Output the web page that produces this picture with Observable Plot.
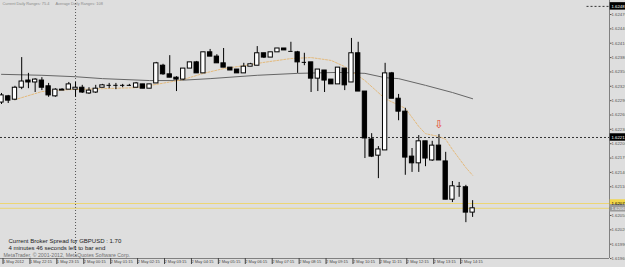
<!DOCTYPE html>
<html><head><meta charset="utf-8">
<script src="https://cdn.jsdelivr.net/npm/d3@7"></script>
<script src="https://cdn.jsdelivr.net/npm/@observablehq/plot@0.6"></script>
<style>
html,body{margin:0;padding:0;background:#dedede;}
#chart{width:625px;height:267px;overflow:hidden;}
</style></head><body><div id="chart"></div>
<script>
// GBPUSD M15 candles, bar 0 = 1 May 2012 21:15
const open = [1.62286,1.62299,1.62292,1.62317,1.62332,1.62328,1.62332,1.62320,1.62299,1.62311,
1.62313,1.62313,1.62317,1.62305,1.62307,1.62317,1.62322,1.62322,1.62322,1.62322,
1.62317,1.62324,1.62315,1.62326,1.62363,1.62345,1.62338,1.62334,1.62357,1.62370,
1.62347,1.62391,1.62382,1.62368,1.62359,1.62355,1.62347,1.62361,1.62363,1.62389,
1.62380,1.62391,1.62399,1.62393,1.62391,1.62370,1.62370,1.62336,1.62353,1.62334,
1.62324,1.62357,1.62328,1.62389,1.62309,1.62209,1.62175,1.62186,1.62347,1.62294,
1.62267,1.62173,1.62159,1.62205,1.62165,1.62196,1.62163,1.62083,1.62111,1.62109,
1.62056];
const high = [1.62305,1.62301,1.62320,1.62380,1.62347,1.62336,1.62338,1.62326,1.62315,1.62315,
1.62328,1.62328,1.62322,1.62317,1.62322,1.62324,1.62326,1.62326,1.62324,1.62324,
1.62328,1.62324,1.62324,1.62370,1.62366,1.62384,1.62340,1.62357,1.62370,1.62372,
1.62391,1.62397,1.62386,1.62399,1.62359,1.62355,1.62368,1.62368,1.62403,1.62389,
1.62391,1.62399,1.62399,1.62412,1.62393,1.62389,1.62370,1.62355,1.62353,1.62334,
1.62359,1.62357,1.62420,1.62412,1.62309,1.62221,1.62194,1.62368,1.62349,1.62303,
1.62274,1.62190,1.62217,1.62205,1.62205,1.62219,1.62182,1.62121,1.62119,1.62113,
1.62081];
const low = [1.62282,1.62284,1.62290,1.62313,1.62315,1.62307,1.62311,1.62297,1.62297,1.62311,
1.62313,1.62297,1.62305,1.62303,1.62305,1.62317,1.62315,1.62313,1.62317,1.62320,
1.62317,1.62315,1.62315,1.62326,1.62343,1.62338,1.62309,1.62332,1.62357,1.62347,
1.62347,1.62382,1.62368,1.62359,1.62353,1.62347,1.62347,1.62361,1.62363,1.62378,
1.62380,1.62391,1.62395,1.62393,1.62347,1.62363,1.62307,1.62309,1.62307,1.62324,
1.62324,1.62311,1.62328,1.62309,1.62169,1.62171,1.62127,1.62186,1.62294,1.62248,
1.62134,1.62140,1.62140,1.62152,1.62163,1.62165,1.62083,1.62077,1.62088,1.62035,
1.62046];
const close = [1.62301,1.62290,1.62317,1.62330,1.62328,1.62334,1.62317,1.62301,1.62313,1.62313,
1.62324,1.62317,1.62307,1.62311,1.62315,1.62322,1.62322,1.62322,1.62322,1.62322,
1.62326,1.62315,1.62324,1.62368,1.62345,1.62338,1.62334,1.62357,1.62370,1.62347,
1.62391,1.62382,1.62368,1.62359,1.62353,1.62347,1.62361,1.62366,1.62389,1.62380,
1.62391,1.62399,1.62395,1.62393,1.62370,1.62370,1.62336,1.62355,1.62332,1.62324,
1.62359,1.62322,1.62389,1.62309,1.62211,1.62173,1.62188,1.62347,1.62294,1.62267,
1.62171,1.62159,1.62205,1.62169,1.62196,1.62165,1.62083,1.62111,1.62111,1.62056,
1.62065];

// fast moving average (orange dotted), read at these bars
const maFastBars = [2,6,10,15,20,23,27,30,33,36,39,43,46,49,51,54,57,60,62,63,65,66,67,68,69,70];
const maFastValues = [1.62292,1.62309,1.62313,1.62315,1.62317,1.62324,1.62334,1.62347,1.62357,1.62363,1.62370,1.62378,1.62380,1.62374,1.62361,1.62332,1.62294,1.62274,1.62236,1.62221,1.62215,1.62209,1.62188,1.62169,1.62150,1.62134];
// slow moving average (dark gray)
const maSlowBars = [0,6,11,15,22,26,31,38,44,50,54,57,59,63,67,70];
const maSlowValues = [1.62345,1.62343,1.62340,1.62336,1.62332,1.62332,1.62336,1.62343,1.62347,1.62349,1.62347,1.62338,1.62336,1.62322,1.62307,1.62294];

const priceTicks = [1.62470,1.62440,1.62410,1.62380,1.62350,1.62320,1.62290,1.62260,1.62230,1.62200,1.62170,1.62140,1.62110,1.62080,1.62050,1.62020,1.61990,1.61960];
const timeTickBars = [0,4,8,12,16,20,24,28,32,36,40,44,48,52,56,60,64,68];
const timeTickLabels = ["1 May 2012","1 May 22:15","1 May 23:15","2 May 00:15","2 May 01:15","2 May 02:15","2 May 03:15","2 May 04:15","2 May 05:15","2 May 06:15","2 May 07:15","2 May 08:15","2 May 09:15","2 May 10:15","2 May 11:15","2 May 12:15","2 May 13:15","2 May 14:15"];

const daySeparatorBars = [11];
const midLevel = [1.62213];
const topLevel = {price: 1.62487, fromBar: 87};
const yellowLevels = [1.62075, 1.62065];
const signalBars = [65];
const signalPrices = [1.62240];

const priceLabels = [
  {price: 1.62487, bg: "#000000", fg: "#ffffff"},
  {price: 1.62213, bg: "#000000", fg: "#ffffff"},
  {price: 1.62075, bg: "#f2d64a", fg: "#000000"},
  {price: 1.62065, bg: "#9a9a9a", fg: "#ffffff"}
];

const topTexts = ["Current Daily Ranges: 75.4", "Average Daily Ranges: 108"];
const infoLines = ["Current Broker Spread for GBPUSD : 1.70", "4 minutes 46 seconds left to bar end"];
const copyright = "MetaTrader, \u00a9 2001-2012, MetaQuotes Software Corp.";

const idx = d3.range(open.length);
const xDomain = [-0.149, 90.34];
const yDomain = [1.619601, 1.624993];
const half = 0.32;
const lblHalf = 0.000078;
const labelByBar = new Map(timeTickBars.map((b, i) => [b, timeTickLabels[i]]));

const bodies = idx.filter(i => open[i] !== close[i]);
const dojis = idx.filter(i => open[i] === close[i]);

const chart = Plot.plot({
  width: 625, height: 267,
  marginLeft: 0, marginRight: 16, marginTop: 0, marginBottom: 9,
  style: {background: "#dedede", fontFamily: "'Liberation Sans', Arial, sans-serif", overflow: "hidden"},
  x: {type: "linear", domain: xDomain},
  y: {type: "linear", domain: yDomain},
  marks: [
    Plot.ruleX(daySeparatorBars, {x: d => d, stroke: "#555", strokeDasharray: "1,2"}),
    Plot.ruleY(midLevel, {y: d => d, stroke: "#333", strokeDasharray: "2,2"}),
    Plot.ruleY([topLevel], {y: d => d.price, x1: d => d.fromBar, x2: xDomain[1], stroke: "#333", strokeDasharray: "2,2"}),
    Plot.ruleY(yellowLevels, {y: d => d, stroke: "#ecd672", strokeWidth: 1}),
    Plot.line(maSlowBars, {x: d => d, y: (d, i) => maSlowValues[i], stroke: "#666", strokeWidth: 1}),
    Plot.line(maFastBars, {x: d => d, y: (d, i) => maFastValues[i], stroke: "#e4ba7c", strokeWidth: 1, strokeDasharray: "2,1.5"}),
    Plot.ruleX(idx, {x: i => i, y1: i => low[i], y2: i => high[i], stroke: "#000", strokeWidth: 1}),
    Plot.rect(bodies, {
      x1: i => i - half, x2: i => i + half,
      y1: i => Math.min(open[i], close[i]), y2: i => Math.max(open[i], close[i]),
      fill: i => close[i] > open[i] ? "#ffffff" : "#000000",
      stroke: "#000", strokeWidth: 1
    }),
    Plot.ruleY(dojis, {y: i => close[i], x1: i => i - half, x2: i => i + half, stroke: "#000"}),
    Plot.text(signalBars, {x: d => d, y: (d, i) => signalPrices[i], text: () => "\u21e9", fill: "#e8402a", fontSize: 11, fontFamily: "DejaVu Sans"}),
    Plot.ruleX([xDomain[1]], {stroke: "#808080"}),
    Plot.ruleY([yDomain[0]], {stroke: "#808080"}),
    Plot.axisY(priceTicks, {anchor: "right", tickSize: 1.5, tickPadding: 0.5, tickFormat: d => d.toFixed(5), fontSize: 4.3, color: "#555", label: null}),
    Plot.axisX(timeTickBars, {anchor: "bottom", tickSize: 6, tickPadding: -4, tickFormat: d => labelByBar.get(d), textAnchor: "start", dx: 1.5, fontSize: 4, color: "#444", label: null}),
    Plot.rect(priceLabels, {x1: xDomain[1] + 0.1, x2: xDomain[1] + 4, y1: d => d.price - lblHalf, y2: d => d.price + lblHalf, fill: d => d.bg}),
    Plot.text(priceLabels, {x: xDomain[1], y: d => d.price, text: d => d.price.toFixed(5), fill: d => d.fg, textAnchor: "start", dx: 2, fontSize: 4.3}),
    Plot.text([topTexts[0]], {frameAnchor: "top-left", dx: 2, dy: 3, lineAnchor: "middle", textAnchor: "start", fontSize: 3.9, fill: "#8a8a8a"}),
    Plot.text([topTexts[1]], {frameAnchor: "top-left", dx: 55, dy: 3, lineAnchor: "middle", textAnchor: "start", fontSize: 3.9, fill: "#8a8a8a"}),
    Plot.text([infoLines[0]], {frameAnchor: "bottom-left", dx: 8, dy: -17, lineAnchor: "middle", textAnchor: "start", fontSize: 6, fill: "#1a1a1a"}),
    Plot.text([infoLines[1]], {frameAnchor: "bottom-left", dx: 8, dy: -10, lineAnchor: "middle", textAnchor: "start", fontSize: 6, fill: "#1a1a1a"}),
    Plot.text([copyright], {frameAnchor: "bottom-left", dx: 3, dy: -3, lineAnchor: "middle", textAnchor: "start", fontSize: 5.2, fill: "#707070"})
  ]
});
document.getElementById("chart").appendChild(chart);
</script></body></html>
